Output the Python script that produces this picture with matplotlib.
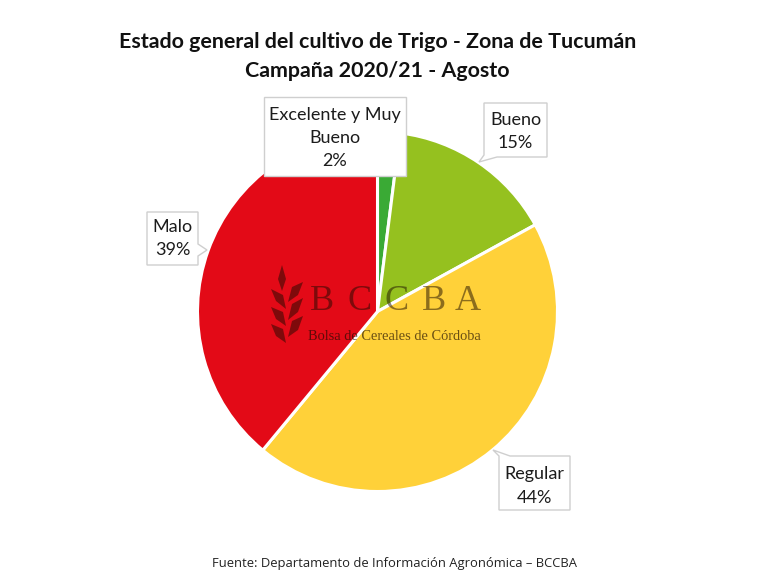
import matplotlib
matplotlib.use("Agg")
import matplotlib.pyplot as plt
from matplotlib.patches import Polygon

categories = ["Excelente y Muy\nBueno", "Bueno", "Regular", "Malo"]
values = [2, 15, 44, 39]
colors = ["#3aaa35", "#95c11f", "#ffd139", "#e30a17"]
title_lines = ["Estado general del cultivo de Trigo - Zona de Tucumán", "Campaña 2020/21 - Agosto"]
source = "Fuente: Departamento de Información Agronómica – BCCBA"
logo_letters = list("BCCBA")
logo_subtitle = "Bolsa de Cereales de Córdoba"

W, H = 764, 587
fig = plt.figure(figsize=(W / 100, H / 100), dpi=100)
ax = fig.add_axes([0, 0, 1, 1])
Y = lambda py: H - py

ax.pie(values, colors=colors, startangle=90, counterclock=False,
       center=(377.5, Y(311.5)), radius=180,
       wedgeprops=dict(edgecolor="white", linewidth=2.2))
ax.set_xlim(0, W)
ax.set_ylim(0, H)
ax.set_aspect("equal")
ax.axis("off")

FONT = "Lato"
ax.text(377.5, Y(42), title_lines[0], ha="center", va="center", fontsize=15.4, fontweight="bold", family=FONT, color="#111111")
ax.text(377.5, Y(71), title_lines[1], ha="center", va="center", fontsize=15.4, fontweight="bold", family=FONT, color="#111111")
ax.text(394.5, Y(564), source, ha="center", va="center", fontsize=9.4, family="Open Sans", color="#222222")

# watermark
ink = dict(facecolor="#1a0a00", alpha=0.5, edgecolor="none", zorder=5)
leaves = [
    [(282, 265), (286, 279), (282, 291), (278, 279)],
    [(303, 282), (292, 287), (288, 302), (298, 295)],
    [(271, 289), (283, 295), (286, 309), (276, 301)],
    [(303, 298), (292, 304), (288, 320), (298, 312)],
    [(271, 307), (283, 312), (286, 326), (276, 319)],
    [(303, 316), (292, 321), (288, 337), (298, 330)],
    [(271, 324), (283, 329), (286, 343), (276, 336)],
]
for leaf in leaves:
    ax.add_patch(Polygon([(x, Y(y)) for x, y in leaf], closed=True, **ink))
for x, letter in zip([322, 360, 397, 434, 468], logo_letters):
    ax.text(x, Y(302), letter, ha="center", va="center", fontsize=26,
            family="Liberation Serif", color="#1a0a00", alpha=0.5, zorder=5)
ax.text(394.5, Y(336), logo_subtitle, ha="center", va="center",
        fontsize=10.4, family="Liberation Serif", color="#1a0a00", alpha=0.65, zorder=5)

def callout(label, value, box, outline, dy=0):
    x0, y0, x1, y1 = box
    ax.add_patch(Polygon([(x, Y(y)) for x, y in outline], closed=True, facecolor="white",
                         edgecolor="#cfcfcf", linewidth=1.0, zorder=6))
    ax.text((x0 + x1) / 2, Y((y0 + y1) / 2 + dy), f"{label}\n{value}%", ha="center", va="center",
            fontsize=13, family=FONT, color="#1c1c1c", linespacing=1.55, zorder=7)

callout(categories[0], values[0], (264, 97, 406, 176),
        [(264, 97), (406, 97), (406, 176), (264, 176)], dy=1.5)
callout(categories[1], values[1], (484, 103, 547, 157),
        [(484, 103), (547, 103), (547, 157), (497, 157), (479, 162), (484, 155)], dy=1.5)
callout(categories[2], values[2], (499, 456, 570, 510),
        [(493, 450), (510, 456), (570, 456), (570, 510), (499, 510), (499, 456)], dy=3)
callout(categories[3], values[3], (147, 212, 198, 265),
        [(147, 212), (198, 212), (198, 244), (207, 250), (198, 256), (198, 265), (147, 265)], dy=0)

fig.savefig("out.png", dpi=100, facecolor="white")
